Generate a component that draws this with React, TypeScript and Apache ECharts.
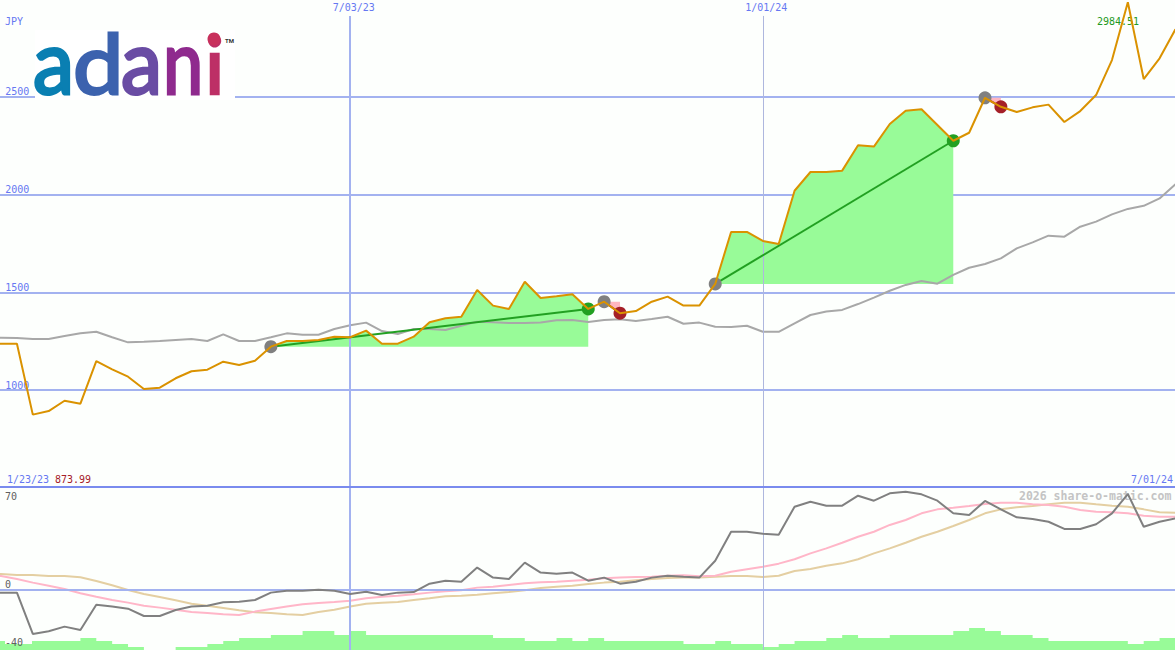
import * as React from "react";
import * as echarts from "echarts";

const weeks = [
  "1/23/23", "1/30/23", "2/06/23", "2/13/23", "2/20/23", "2/27/23", "3/06/23", "3/13/23", "3/20/23", "3/27/23",
  "4/03/23", "4/10/23", "4/17/23", "4/24/23", "5/01/23", "5/08/23", "5/15/23", "5/22/23", "5/29/23", "6/05/23",
  "6/12/23", "6/19/23", "6/26/23", "7/03/23", "7/10/23", "7/17/23", "7/24/23", "7/31/23", "8/07/23", "8/14/23",
  "8/21/23", "8/28/23", "9/04/23", "9/11/23", "9/18/23", "9/25/23", "10/02/23", "10/09/23", "10/16/23", "10/23/23",
  "10/30/23", "11/06/23", "11/13/23", "11/20/23", "11/27/23", "12/04/23", "12/11/23", "12/18/23", "12/25/23", "1/01/24",
  "1/08/24", "1/15/24", "1/22/24", "1/29/24", "2/05/24", "2/12/24", "2/19/24", "2/26/24", "3/04/24", "3/11/24",
  "3/18/24", "3/25/24", "4/01/24", "4/08/24", "4/15/24", "4/22/24", "4/29/24", "5/06/24", "5/13/24", "5/20/24",
  "5/27/24", "6/03/24", "6/10/24", "6/17/24", "6/24/24", "7/01/24",
];

const close = [
  1237, 1237, 1237, 874, 892, 945, 930, 1148, 1106, 1068, 1005, 1012, 1060, 1096, 1104, 1145, 1128, 1150, 1222, 1251,
  1251, 1256, 1273, 1270, 1304, 1237, 1237, 1273, 1347, 1367, 1375, 1512, 1432, 1415, 1554, 1471, 1480, 1490, 1415, 1452,
  1393, 1404, 1452, 1478, 1432, 1432, 1543, 1809, 1809, 1763, 1747, 2020, 2116, 2116, 2123, 2253, 2246, 2362, 2430, 2437,
  2357, 2276, 2317, 2496, 2450, 2423, 2447, 2461, 2372, 2428, 2510, 2689, 2985, 2592, 2698, 2847,
];

const average = [
  1268, 1268, 1266, 1261, 1261, 1276, 1290, 1298, 1270, 1244, 1247, 1251, 1256, 1261, 1251, 1285, 1251, 1251, 1270, 1290,
  1283, 1283, 1312, 1331, 1345, 1302, 1287, 1312, 1312, 1307, 1329, 1350, 1347, 1343, 1343, 1345, 1357, 1358, 1348, 1358,
  1362, 1353, 1363, 1375, 1339, 1345, 1324, 1323, 1329, 1298, 1298, 1341, 1384, 1402, 1410, 1440, 1473, 1508, 1538, 1558,
  1544, 1589, 1626, 1645, 1674, 1725, 1756, 1790, 1785, 1836, 1862, 1899, 1927, 1943, 1981, 2053,
];

const oscillator = [
  -1.8, -1.8, -1.8, -29.9, -28.1, -24.9, -27.2, -10, -11.3, -12.7, -17.7, -17.7, -13.6, -11.3, -10.7, -8.4, -8, -6.8, -1.8, -0.5,
  -0.5, 0.2, -0.5, -2.7, -1.2, -3.4, -1.8, -1.4, 4.3, 6.3, 5.6, 15.2, 8.4, 7.5, 18.6, 11.8, 11.1, 11.8, 6.3, 8.4,
  4.3, 5.6, 8.4, 9.7, 9, 8.4, 19.9, 39.6, 39.6, 38.3, 37.6, 56.6, 60, 57.3, 57.3, 64.1, 60.7, 65.7, 66.8, 65,
  60.7, 52.1, 51, 60.5, 54.8, 49.4, 48.3, 46.4, 41.5, 41.5, 44.7, 52.1, 65.2, 43, 46.4, 48.7,
];

const signalFast = [
  10, 9.5, 7.5, 5, 2.9, 0.7, -2.2, -4.6, -6.8, -8.6, -10.7, -12, -13.4, -15, -15.6, -16.5, -17, -14.7, -12.9, -11.3,
  -9.7, -8.8, -8.2, -7.3, -5.6, -4.6, -3.9, -2.9, -1.8, -0.9, -0.2, 1.6, 2.2, 3.4, 4.6, 5.2, 5.6, 6.3, 7, 8,
  8.4, 8.8, 9, 9.7, 10, 9.3, 9.7, 12.4, 14.1, 15.8, 17.9, 20.9, 24.9, 28.3, 32.1, 36.2, 39.6, 44.2, 47.6, 52.1,
  54.8, 55.9, 57.1, 58.4, 59.3, 59.3, 58.2, 57.8, 56.6, 54.4, 53.2, 52.8, 52.1, 50.5, 49.8, 49.8,
];

const signalSlow = [
  11.5, 10.9, 10.2, 10.2, 9.5, 9.5, 8.6, 6.1, 3.2, 0, -2.7, -4.8, -7, -9.3, -10.7, -12.2, -13.8, -15.2, -15.6, -16.5,
  -17, -15, -13.4, -11.3, -9.3, -8.6, -8.2, -6.8, -5.6, -4.3, -3.9, -3.2, -2.2, -1.4, -0.2, 1.4, 2.2, 2.9, 4.1, 5,
  5.6, 6.6, 7.5, 8.2, 8.4, 8.4, 9, 9.5, 9.5, 8.8, 9.7, 12.9, 14.3, 16.5, 18.1, 20.9, 24.9, 28.3, 32.1, 36.2,
  39.6, 43.5, 47.6, 52.1, 54.8, 56.2, 57.1, 58.2, 59.3, 59.3, 58.2, 57.3, 56.6, 54.8, 52.8, 52.5,
];

const histogram = [
  9, 9, 9, 9, 9, 9, 12, 9, 6, 3, 0, 0, 3, 3, 6, 9, 12, 12, 15, 15,
  19, 19, 15, 19, 15, 15, 15, 15, 15, 15, 15, 15, 12, 12, 9, 9, 12, 9, 12, 9,
  9, 9, 9, 9, 6, 6, 9, 6, 6, 3, 6, 9, 9, 12, 15, 12, 12, 15, 15, 15,
  15, 19, 22, 19, 15, 15, 12, 9, 9, 9, 9, 9, 6, 9, 12, 12,
];

const priceTicks = [1000, 1500, 2000, 2500];
const thickLineDate = "7/03/23";
const thinLineDate = "1/01/24";
const wins = [
  { from: 18, to: 38 },
  { from: 46, to: 61 },
];
const losses = [
  { from: 39, to: 40 },
  { from: 63, to: 64 },
];
const logoLetters = [
  { ch: "a", x: 33, sx: 0.92, sy: 1, color: "#0a7fb2" },
  { ch: "d", x: 73, sx: 1, sy: 0.92, color: "#3c62ae" },
  { ch: "a", x: 121, sx: 0.92, sy: 1, color: "#6a4ca4" },
  { ch: "n", x: 163, sx: 0.8, sy: 1, color: "#8f2a8e" },
  { ch: "i", x: 205, sx: 0.9, sy: 0.88, color: "#bd2f66" },
];

const GRID_BLUE = "#a3b2f0";
const THIN_BLUE = "#aeb7de";
const LABEL_BLUE = "#6678f2";
const MONO = '"DejaVu Sans Mono", monospace';

const between = (from: number, to: number) => close.map((v, i) => (i >= from && i <= to ? v : null));

const tradeLine = (from: number, to: number, exitColor: string) => ({
  type: "line",
  xAxisIndex: 0,
  yAxisIndex: 0,
  z: 5,
  connectNulls: true,
  symbol: "circle",
  symbolSize: 13,
  showAllSymbol: true,
  lineStyle: { color: exitColor, width: 2 },
  data: close.map((v, i) => {
    if (i === from) return { value: v, itemStyle: { color: "#808080" } };
    if (i === to) return { value: v, itemStyle: { color: exitColor } };
    return null;
  }),
});

const tradeFill = (from: number, to: number, color: string) => ({
  type: "line",
  xAxisIndex: 0,
  yAxisIndex: 0,
  z: 2,
  symbol: "none",
  lineStyle: { width: 0 },
  areaStyle: { color, opacity: 1, origin: close[from] },
  data: between(from, to),
});

const plainLine = (data: number[], color: string, xAxisIndex: number, z: number) => ({
  type: "line",
  xAxisIndex,
  yAxisIndex: xAxisIndex,
  z,
  symbol: "none",
  lineStyle: { color, width: 2 },
  data,
});

const monoText = (text: string, x: number, y: number, fill: string, z = 20) => ({
  type: "text",
  x,
  y,
  z,
  style: { text, fill, font: `10px ${MONO}`, verticalAlign: "middle" },
});

const hiddenAxis = { axisLine: { show: false }, axisTick: { show: false }, splitLine: { show: false }, axisLabel: { show: false } };

export default function App() {
  const ref = React.useRef<HTMLDivElement | null>(null);

  React.useEffect(() => {
    if (!ref.current) return;
    const chart = echarts.init(ref.current, undefined, { renderer: "svg" });
    chart.setOption({
      animation: false,
      backgroundColor: "#fdfffd",
      grid: [
        { left: -14.8, top: -0.67, width: 1190.25, height: 488.34, outerBoundsMode: "none" },
        { left: -14.8, top: 487, width: 1190.25, height: 163, outerBoundsMode: "none" },
      ],
      xAxis: [
        {
          type: "category",
          gridIndex: 0,
          position: "top",
          boundaryGap: false,
          data: weeks,
          axisLine: { show: false },
          axisTick: { show: false },
          splitLine: { show: false },
          axisLabel: {
            inside: true,
            margin: 3,
            interval: (_: number, v: string) => v === thickLineDate || v === thinLineDate,
            color: LABEL_BLUE,
            fontFamily: MONO,
            fontSize: 10,
            padding: [0, 0, 0, 7],
          },
        },
        { type: "category", gridIndex: 1, boundaryGap: false, data: weeks, ...hiddenAxis },
      ],
      yAxis: [
        {
          type: "value",
          gridIndex: 0,
          min: 500,
          max: 3000,
          interval: 500,
          axisLine: { show: false },
          axisTick: { show: false },
          splitLine: { lineStyle: { color: GRID_BLUE, width: 2 }, showMinLine: false, showMaxLine: false },
          axisLabel: {
            inside: true,
            margin: 20,
            align: "left",
            verticalAlign: "bottom",
            color: LABEL_BLUE,
            fontFamily: MONO,
            fontSize: 10,
            formatter: (v: number) => (priceTicks.includes(v) ? String(v) : ""),
          },
        },
        { type: "value", gridIndex: 1, min: -40.8, max: 70, ...hiddenAxis },
        { type: "value", gridIndex: 1, min: 0, max: 163, ...hiddenAxis },
      ],
      series: [
        {
          type: "line",
          xAxisIndex: 0,
          yAxisIndex: 0,
          z: 1,
          symbol: "none",
          data: close,
          lineStyle: { width: 0 },
          markLine: {
            silent: true,
            symbol: "none",
            label: { show: false },
            data: [
              [
                { xAxis: thickLineDate, yAxis: 2915, lineStyle: { width: 2, color: GRID_BLUE, type: "solid" } },
                { xAxis: thickLineDate, yAxis: 500 },
              ],
              [
                { xAxis: thinLineDate, yAxis: 2915, lineStyle: { width: 1, color: THIN_BLUE, type: "solid" } },
                { xAxis: thinLineDate, yAxis: 500 },
              ],
            ],
          },
        },
        {
          type: "line",
          xAxisIndex: 1,
          yAxisIndex: 1,
          z: 1,
          symbol: "none",
          data: oscillator,
          lineStyle: { width: 0 },
          markLine: {
            silent: true,
            symbol: "none",
            label: { show: false },
            data: [
              [
                { xAxis: thickLineDate, yAxis: 70, lineStyle: { width: 2, color: GRID_BLUE, type: "solid" } },
                { xAxis: thickLineDate, yAxis: -40.8 },
              ],
              [
                { xAxis: thinLineDate, yAxis: 70, lineStyle: { width: 1, color: THIN_BLUE, type: "solid" } },
                { xAxis: thinLineDate, yAxis: -40.8 },
              ],
              { yAxis: 0, lineStyle: { width: 2, color: GRID_BLUE, type: "solid" } },
              { yAxis: 70, lineStyle: { width: 2, color: "#7a8bee", type: "solid" } },
            ],
          },
        },
        ...wins.map((t) => tradeFill(t.from, t.to, "#98fb98")),
        ...losses.map((t) => tradeFill(t.from, t.to, "#ffb6c1")),
        plainLine(average, "#a8a8a8", 0, 3),
        ...wins.map((t) => tradeLine(t.from, t.to, "#22a022")),
        ...losses.map((t) => tradeLine(t.from, t.to, "#a52028")),
        plainLine(close, "#da9200", 0, 6),
        {
          type: "line",
          xAxisIndex: 1,
          yAxisIndex: 2,
          z: 2,
          step: "end",
          symbol: "none",
          lineStyle: { width: 0 },
          areaStyle: { color: "#98fb98", opacity: 1 },
          data: histogram,
        },
        plainLine(signalSlow, "#e4cfa2", 1, 3),
        plainLine(signalFast, "#ffb6c8", 1, 4),
        plainLine(oscillator, "#808080", 1, 5),
      ],
      graphic: [
        monoText("JPY", 5, 21, LABEL_BLUE),
        monoText("2984.51", 1097, 21, "#229922", 1),
        monoText("1/23/23", 7, 479, LABEL_BLUE),
        monoText("873.99", 55, 479, "#a52028"),
        monoText("7/01/24", 1131, 479, LABEL_BLUE),
        monoText("70", 5, 496, "#606060"),
        monoText("0", 5, 584, "#606060"),
        { type: "rect", z: 19, shape: { x: 5, y: 636, width: 27, height: 8 }, style: { fill: "#fdfffd" } },
        monoText("-40", 5, 642, "#606060"),
        {
          type: "text",
          x: 1019,
          y: 496,
          z: 1,
          style: { text: "2026 share-o-matic.com", fill: "#c4c4c4", font: `bold 11.5px ${MONO}`, verticalAlign: "middle" },
        },
        { type: "rect", z: 21, shape: { x: 35, y: 30, width: 200, height: 70 }, style: { fill: "#ffffff" } },
        ...logoLetters.map((l) => ({
          type: "text",
          x: l.x,
          y: 96 - 82 * l.sy,
          z: 22,
          scaleX: l.sx,
          scaleY: l.sy,
          style: { text: l.ch, font: "90px Lato", fill: l.color, stroke: l.color, lineWidth: 3, lineJoin: "round" },
        })),
        { type: "circle", z: 23, shape: { cx: 214, cy: 39, r: 6.5 }, style: { fill: "#c8305c" } },
        {
          type: "text",
          x: 225,
          y: 40,
          z: 22,
          style: { text: "TM", fill: "#333333", font: "bold 6px Roboto", verticalAlign: "middle" },
        },
      ],
    });
    return () => chart.dispose();
  }, []);

  return <div ref={ref} style={{ position: "fixed", left: 0, top: 0, width: 1175, height: 650 }} />;
}
